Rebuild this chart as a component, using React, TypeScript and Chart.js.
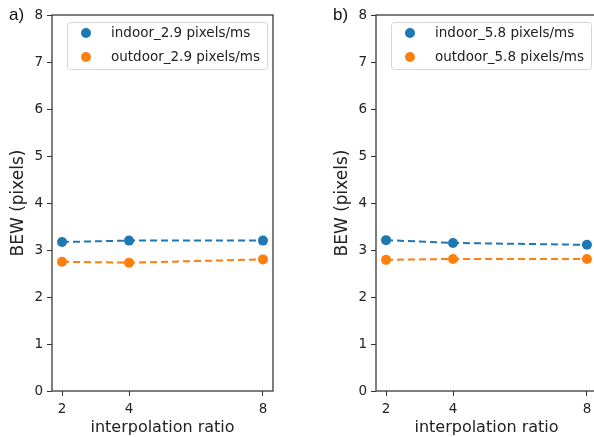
import React, { useEffect, useRef } from "react";
import { Chart, registerables } from "chart.js";

Chart.register(...registerables);

// ---- data ----
const ratios = [2, 4, 8];
const xTicks = [2, 4, 8];
const yTicks = [0, 1, 2, 3, 4, 5, 6, 7, 8];

const indoorA = [3.17, 3.2, 3.2];
const outdoorA = [2.75, 2.73, 2.8];
const indoorB = [3.21, 3.15, 3.11];
const outdoorB = [2.79, 2.81, 2.81];

const labelsA = ["indoor_2.9 pixels/ms", "outdoor_2.9 pixels/ms"];
const labelsB = ["indoor_5.8 pixels/ms", "outdoor_5.8 pixels/ms"];

const colors = ["#1f77b4", "#ff7f0e"];

const W = 297;
const H = 437;
const FONT = "'DejaVu Sans', sans-serif";
const TXT = "#222";

const framePlugin = {
  id: "frame",
  afterDatasetsDraw(chart: any) {
    const { ctx, chartArea } = chart;
    ctx.save();
    ctx.strokeStyle = "#3a3a3a";
    ctx.lineWidth = 1.3;
    ctx.strokeRect(
      chartArea.left,
      chartArea.top,
      chartArea.right - chartArea.left,
      chartArea.bottom - chartArea.top
    );
    ctx.restore();
  },
};

const legendPlugin = {
  id: "boxLegend",
  afterDraw(chart: any) {
    const { ctx, chartArea } = chart;
    const x = chartArea.left + 15;
    const y = chartArea.top + 7;
    const w = 200;
    const h = 47;
    ctx.save();
    ctx.beginPath();
    ctx.roundRect(x + 0.5, y + 0.5, w, h, 3);
    ctx.fillStyle = "rgba(255,255,255,0.8)";
    ctx.fill();
    ctx.strokeStyle = "#d6d6d6";
    ctx.lineWidth = 1;
    ctx.stroke();
    chart.data.datasets.forEach((ds: any, i: number) => {
      const cy = y + 11 + i * 24;
      ctx.beginPath();
      ctx.arc(x + 19, cy, 5, 0, Math.PI * 2);
      ctx.fillStyle = ds.borderColor;
      ctx.fill();
      ctx.fillStyle = TXT;
      ctx.font = `13.5px ${FONT}`;
      ctx.textBaseline = "middle";
      ctx.textAlign = "left";
      ctx.fillText(ds.label, x + 44, cy);
    });
    ctx.restore();
  },
};

function Panel(props: {
  left: number;
  tag: string;
  indoor: number[];
  outdoor: number[];
  labels: string[];
}) {
  const ref = useRef<HTMLCanvasElement>(null);
  useEffect(() => {
    const mk = (label: string, vals: number[], color: string) => ({
      label,
      data: ratios.map((r, i) => ({ x: r, y: vals[i] })),
      borderColor: color,
      backgroundColor: color,
      borderWidth: 2,
      borderDash: [7, 4],
      pointRadius: 5,
      pointBorderWidth: 0,
      pointBackgroundColor: color,
      fill: false,
      tension: 0,
    });
    const chart = new Chart(ref.current as HTMLCanvasElement, {
      type: "line",
      data: {
        datasets: [
          mk(props.labels[0], props.indoor, colors[0]),
          mk(props.labels[1], props.outdoor, colors[1]),
        ],
      },
      options: {
        responsive: false,
        animation: false,
        layout: { padding: { top: 15, right: 24, left: 0, bottom: 0 } },
        plugins: {
          legend: { display: false },
          tooltip: { enabled: false },
        },
        scales: {
          x: {
            type: "linear",
            min: 1.7,
            max: 8.3,
            afterBuildTicks: (axis: any) => {
              axis.ticks = xTicks.map((v) => ({ value: v }));
            },
            afterFit: (axis: any) => {
              axis.height = 46;
            },
            ticks: {
              font: { family: FONT, size: 13.5 },
              color: TXT,
              padding: 5,
              maxRotation: 0,
              autoSkip: false,
            },
            grid: {
              drawOnChartArea: false,
              drawTicks: true,
              tickLength: 5,
              color: "#333",
            },
            border: { display: false },
            title: {
              display: true,
              text: "interpolation ratio",
              font: { family: FONT, size: 16 },
              color: TXT,
              padding: { top: 0, bottom: 0 },
            },
          },
          y: {
            type: "linear",
            min: 0,
            max: 8,
            afterBuildTicks: (axis: any) => {
              axis.ticks = yTicks.map((v) => ({ value: v }));
            },
            afterFit: (axis: any) => {
              axis.width = 52;
            },
            ticks: {
              font: { family: FONT, size: 13.5 },
              color: TXT,
              padding: 4,
            },
            grid: {
              drawOnChartArea: false,
              drawTicks: true,
              tickLength: 5,
              color: "#333",
            },
            border: { display: false },
            title: {
              display: true,
              text: "BEW (pixels)",
              font: { family: FONT, size: 17 },
              color: TXT,
              padding: { top: 8, bottom: 0 },
            },
          },
        },
      },
      plugins: [framePlugin, legendPlugin],
    } as any);
    return () => chart.destroy();
  }, []);
  return (
    <div
      style={{
        position: "absolute",
        left: props.left,
        top: 0,
        width: W,
        height: H,
      }}
    >
      <canvas
        ref={ref}
        width={W}
        height={H}
        style={{ width: W, height: H, display: "block" }}
      />
      <div
        style={{
          position: "absolute",
          left: 9,
          top: 5,
          font: "17px 'Liberation Sans', Arial, sans-serif",
          color: "#111",
          lineHeight: "20px",
        }}
      >
        {props.tag}
      </div>
    </div>
  );
}

export default function App() {
  return (
    <div
      style={{
        position: "fixed",
        left: 0,
        top: 0,
        width: 594,
        height: 437,
        overflow: "hidden",
        background: "#fff",
      }}
    >
      <Panel left={0} tag="a)" indoor={indoorA} outdoor={outdoorA} labels={labelsA} />
      <Panel left={324} tag="b)" indoor={indoorB} outdoor={outdoorB} labels={labelsB} />
    </div>
  );
}
